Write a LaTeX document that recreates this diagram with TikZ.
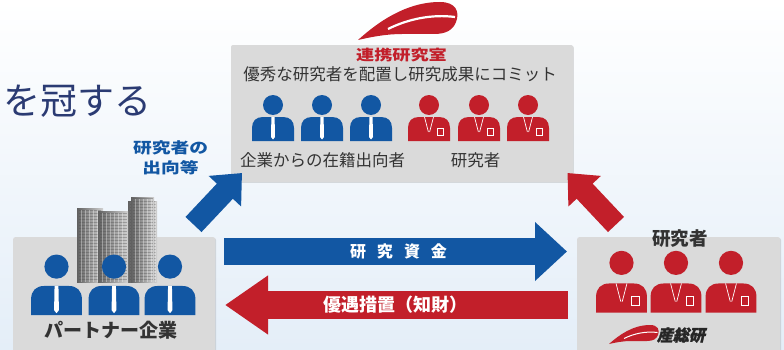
\documentclass[tikz,border=0pt]{standalone}
\usepackage{fontspec}
\setmainfont{Noto Sans CJK JP}
\newfontfamily\widefont[FakeStretch=1.25]{Noto Sans CJK JP}
\newfontfamily\slantfont[FakeSlant=0.22, FakeBold=1.5]{Noto Sans CJK JP}
\usetikzlibrary{arrows.meta, shadows, positioning}
\definecolor{navy}{HTML}{2B3B73}
\definecolor{mblue}{HTML}{1257A3}
\definecolor{mred}{HTML}{C21F2A}
\definecolor{boxgray}{HTML}{DADADA}
\definecolor{txtgray}{HTML}{333333}
\definecolor{bgblue}{HTML}{E4EEF8}
\newcommand\fsz[1]{\fontsize{#1}{#1}\selectfont}

\tikzset{
  % blue staff member with a tie, #1 = height of the head centre
  pics/staff/.style={code={
    \fill[mblue] (0,#1) circle (10);
    \fill[mblue] (-21,0) -- (-21,13) .. controls (-21,20) and (-17,24) .. (-10,24)
      -- (10,24) .. controls (17,24) and (21,20) .. (21,13) -- (21,0) -- cycle;
    \fill[white] (-1.6,24) -- (1.6,24) -- (2,4) -- (0,1.5) -- (-2,4) -- cycle;
  }},
  % red researcher with collar and badge
  pics/researcher/.style={code={
    \fill[mred] (0,#1) circle (10);
    \fill[mred] (-21,0) -- (-21,13) .. controls (-21,20) and (-17,24) .. (-10,24)
      -- (10,24) .. controls (17,24) and (21,20) .. (21,13) -- (21,0) -- cycle;
    \draw[white, line width=.7pt] (-4.5,24) -- (-0.6,9) (4.5,24) -- (0.6,9);
    \draw[white, line width=.7pt] (8.5,5.5) rectangle (14.5,13);
  }},
  % red logo mark
  pics/swoosh/.style={code={
    \fill[mred] (0,0) .. controls (20,18) and (48,38) .. (82,38)
      .. controls (98,38) and (102,28) .. (98,18) .. controls (95,10) and (88,6) .. (76,6)
      -- (44,6) .. controls (28,6) and (13,3) .. (0,0) -- cycle;
    \draw[white, line width=#1] (30,11) .. controls (50,21) and (74,26) .. (97,23);
  }}
}

\begin{document}
\begin{tikzpicture}[
    x=1pt, y=1pt,
    panel/.style={fill=boxgray, rounded corners=2pt, inner sep=0pt,
      drop shadow={opacity=.25, shadow xshift=.8pt, shadow yshift=-.8pt}},
    every node/.style={inner sep=0pt}
]
    \useasboundingbox (0,0) rectangle (784,349);
    \clip (0,0) rectangle (784,349);
    \shade[top color=white, bottom color=bgblue] (0,0) rectangle (784,349);

    % heading
    \node[anchor=east, text=navy, font=\fsz{37}] (title) at (152,248) {を冠する};

    % joint lab
    \node[panel, minimum width=342pt, minimum height=137pt] (lab) at (402,235.5) {};
    \pic at (358,309) {swoosh=2.2pt};
    \node[text=mred, font=\widefont\bfseries\fsz{14.5}] (labname) at (401.5,294) {連携研究室};
    \node[text=txtgray, font=\fsz{16.5}] (labmotto) at (400,275) {優秀な研究者を配置し研究成果にコミット};
    \foreach \x in {273,322,371} \pic at (\x,208) {staff=36};
    \foreach \x in {429,479,528} \pic at (\x,208) {researcher=36};
    \node[text=txtgray, font=\fsz{16.5}] (secondees) at (322.5,188.5) {企業からの在籍出向者};
    \node[text=txtgray, font=\fsz{16.5}] (labres) at (475.5,188.5) {研究者};

    % partner company
    \node[panel, minimum width=202pt, minimum height=130pt, anchor=north west] (partner) at (13,112) {};
    \foreach \a/\b/\t in {77/103/141, 128/157/148, 131/154/152, 98/128/138} {
      \shade[left color=black!62, right color=black!18] (\a,67) rectangle (\b,\t);
      \foreach \h in {70,73,...,\t}
        \draw[black!70, opacity=.35, line width=.4pt] (\a+1.5,\h) -- (\b-1.5,\h);
      \foreach \v in {4,8,...,26}
        \draw[white, opacity=.35, line width=.4pt] (\a+\v,67) -- (\a+\v,\t-1.5);
    }
    \foreach \x in {56.5,114,170} \pic[scale=1.21] at (\x,34) {staff=40};
    \node[text=txtgray, font=\bfseries\fsz{19}] (partnername) at (111,19) {パートナー企業};

    % AIST side
    \node[panel, minimum width=203pt, minimum height=130pt, anchor=north west] (aist) at (577,112) {};
    \node[text=txtgray, font=\bfseries\fsz{18.5}] (aistres) at (680,110.5) {研究者};
    \foreach \x in {621.5,676,731} \pic[scale=1.21] at (\x,36.5) {researcher=41};
    \pic[scale=.5] at (609,5) {swoosh=1pt};
    \node[text=black!85, font=\slantfont\bfseries\fsz{16}] (aistname) at (681,14) {産総研};

    % flows
    \coordinate (outS) at (193.5,124.5);
    \coordinate (outE) at (242,176);
    \coordinate (inS) at (616,124.5);
    \coordinate (inE) at (567.5,176);
    \coordinate (fundS) at (224,97.5);
    \coordinate (fundE) at (567,97.5);
    \coordinate (ipS) at (568,44);
    \coordinate (ipE) at (225,44);

    \draw[mblue, line width=22pt, -{Triangle[width=43pt, length=25pt]}] (outS) -- (outE);
    \draw[mred, line width=22pt, -{Triangle[width=43pt, length=25pt]}] (inS) -- (inE);
    \node[text=mblue, align=center, font=\widefont\bfseries\fontsize{15}{20.5}\selectfont] (sendtxt) at (170.5,191) {研究者の\\出向等};

    \draw[mblue, line width=27pt, -{Triangle[width=57pt, length=32pt]}] (fundS) -- (fundE)
        node[midway, xshift=3pt, text=white, font=\bfseries\fsz{16}] (fundtxt) {研\hspace{11pt}究\hspace{11pt}資\hspace{11pt}金};
    \draw[mred, line width=28pt, -{Triangle[width=56pt, length=43pt]}] (ipS) -- (ipE)
        node[midway, xshift=-1pt, text=white, font=\bfseries\fsz{18}] (iptxt) {優遇措置（知財）};
\end{tikzpicture}
\end{document}
